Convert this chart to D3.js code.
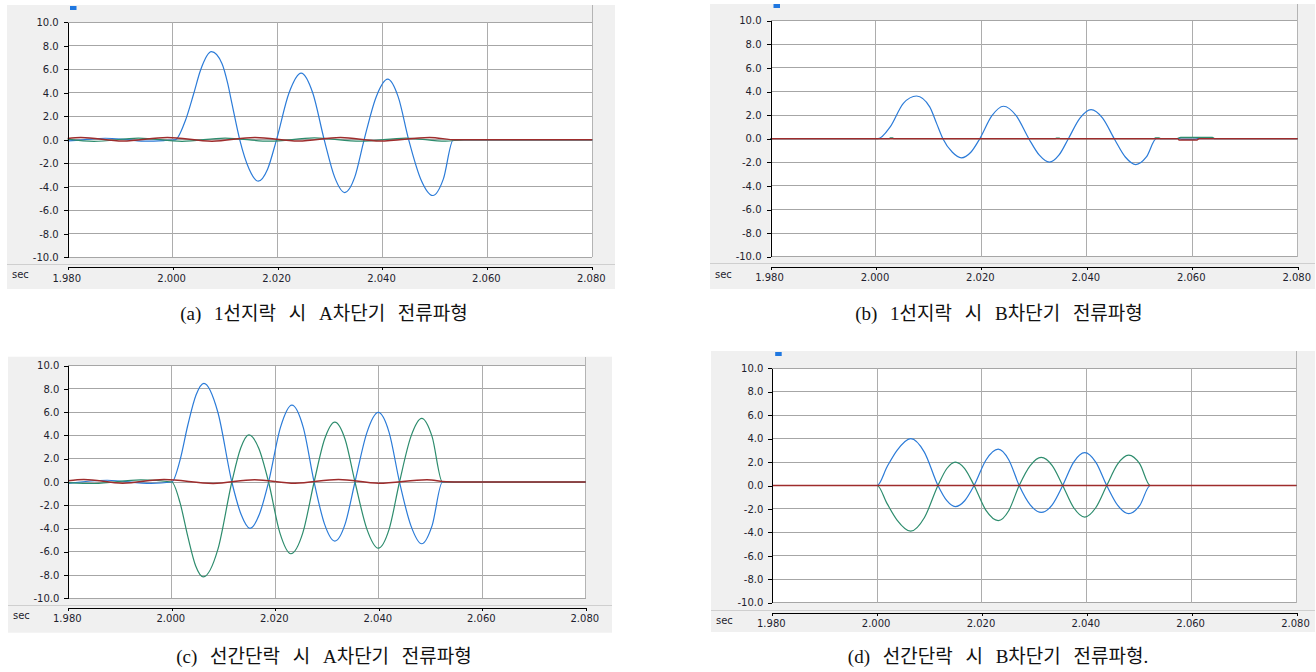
<!DOCTYPE html>
<html>
<head>
<meta charset="utf-8">
<script src="https://cdn.jsdelivr.net/npm/d3@7/dist/d3.min.js"></script>
<style>
  html, body { margin: 0; padding: 0; background: #ffffff; }
  svg { display: block; }
</style>
</head>
<body>
<script>
// ---------------- DATA ----------------
const xTicks = [1.98, 2.00, 2.02, 2.04, 2.06, 2.08];
const yTicks = [10, 8, 6, 4, 2, 0, -2, -4, -6, -8, -10];
const xUnit = "sec";
const captions = [
  "(a) 1선지락 시 A차단기 전류파형",
  "(b) 1선지락 시 B차단기 전류파형",
  "(c) 선간단락 시 A차단기 전류파형",
  "(d) 선간단락 시 B차단기 전류파형."
];

// (a) single line-to-ground fault, breaker A  [time (s), current]
const aBlue = [[1.980,-0.10],[1.9830,0.00],[1.9872,0.13],[1.9912,0.02],[1.9950,-0.12],[1.9985,-0.06],[2.0005,0],
  [2.0024,1.6],[2.0040,3.9],[2.0053,5.9],[2.0074,7.5],[2.0094,6.5],[2.0105,4.8],[2.0113,3.1],[2.0128,0],
  [2.0146,-2.5],[2.0163,-3.52],[2.0181,-2.5],[2.0198,0],
  [2.0222,4.0],[2.0245,5.67],[2.0267,4.0],[2.0289,0],
  [2.0309,-3.2],[2.0328,-4.49],[2.0347,-3.2],[2.0365,0],
  [2.0388,3.65],[2.0410,5.16],[2.0430,3.65],[2.0450,0],
  [2.0473,-3.35],[2.0496,-4.74],[2.0516,-3.35],[2.0535,0],[2.0800,0]];
const aGreen = [[1.980,0.05],[1.9850,-0.14],[1.9935,0.15],[2.0018,-0.13],[2.0100,0.15],[2.0185,-0.12],
  [2.0270,0.16],[2.0358,-0.12],[2.0445,0.15],[2.0520,-0.12],[2.0555,0],[2.0800,0]];
const aRed = [[1.980,0.12],[1.9825,0.2],[1.9905,-0.1],[1.9990,0.2],[2.0075,-0.12],[2.0157,0.2],[2.0240,-0.1],
  [2.0320,0.2],[2.0395,-0.1],[2.0490,0.2],[2.0540,0],[2.0800,0]];

// (b) single line-to-ground fault, breaker B
const bBlue = [[1.980,0],[2.0004,0],[2.0027,1.0],[2.0052,3.0],[2.0077,3.62],[2.0102,2.7],[2.0115,1.3],[2.0127,0],
  [2.0145,-1.15],[2.0162,-1.62],[2.0180,-1.15],[2.0197,0],
  [2.0220,1.95],[2.0242,2.75],[2.0266,1.95],[2.0290,0],
  [2.0310,-1.4],[2.0329,-1.99],[2.0347,-1.4],[2.0365,0],
  [2.0387,1.75],[2.0408,2.47],[2.0430,1.75],[2.0452,0],
  [2.0473,-1.55],[2.0493,-2.19],[2.0513,-1.55],[2.0532,0],
  [2.0575,0],[2.0580,-0.06],[2.0605,-0.06],[2.0610,0],[2.0800,0]];
const bGreen = [[1.980,0],[2.0025,0],[2.0027,0.07],[2.0032,0.07],[2.0034,0],[2.0340,0],[2.0342,0.06],[2.0348,0.06],
  [2.0350,0],[2.0528,0],[2.0530,0.08],[2.0537,0.08],[2.0540,0],[2.0570,0],[2.0578,0.12],[2.0638,0.12],[2.0643,0],[2.0800,0]];
const bRed = [[1.980,0],[2.0572,0],[2.0576,-0.12],[2.0608,-0.12],[2.0613,0],[2.0800,0]];

// (c) line-to-line fault, breaker A
const cBlue = [[1.980,-0.12],[1.9875,0.15],[1.9960,-0.12],[2.0000,0],
  [2.0016,1.9],[2.0031,4.9],[2.0047,7.5],[2.0062,8.48],[2.0089,6.0],[2.0116,0],
  [2.0134,-2.8],[2.0151,-3.99],[2.0169,-2.8],[2.0187,0],
  [2.0210,4.7],[2.0232,6.61],[2.0254,4.7],[2.0275,0],
  [2.0295,-3.6],[2.0315,-5.08],[2.0335,-3.6],[2.0354,0],
  [2.0377,4.25],[2.0399,5.98],[2.0420,4.25],[2.0440,0],
  [2.0462,-3.75],[2.0483,-5.31],[2.0503,-3.75],[2.0523,0],[2.0800,0]];
const cGreen = [[1.980,-0.05],[1.9850,-0.13],[1.9940,0.18],[2.0000,0],
  [2.0016,-1.8],[2.0031,-4.7],[2.0046,-7.2],[2.0061,-8.16],[2.0089,-5.8],[2.0116,0],
  [2.0133,2.9],[2.0149,4.05],[2.0168,2.9],[2.0187,0],
  [2.0209,-4.4],[2.0230,-6.17],[2.0253,-4.4],[2.0275,0],
  [2.0295,3.65],[2.0315,5.15],[2.0335,3.65],[2.0354,0],
  [2.0377,-4.05],[2.0399,-5.69],[2.0420,-4.05],[2.0440,0],
  [2.0462,3.9],[2.0483,5.47],[2.0503,3.9],[2.0523,0],[2.0800,0]];
const cRed = [[1.980,0.1],[1.9830,0.22],[1.9905,-0.1],[1.9985,0.22],[2.0080,-0.12],[2.0160,0.2],[2.0238,-0.1],
  [2.0322,0.22],[2.0400,-0.1],[2.0493,0.2],[2.0530,0.02],[2.0560,0],[2.0800,0]];

// (d) line-to-line fault, breaker B
const dBlue = [[1.980,0],[2.0000,0],
  [2.0019,1.6],[2.0038,3.0],[2.0064,4.0],[2.0090,2.85],[2.0116,0],
  [2.0133,-1.3],[2.0149,-1.8],[2.0167,-1.3],[2.0185,0],
  [2.0208,2.2],[2.0231,3.1],[2.0251,2.2],[2.0271,0],
  [2.0292,-1.65],[2.0313,-2.3],[2.0334,-1.65],[2.0354,0],
  [2.0375,2.0],[2.0396,2.8],[2.0417,2.0],[2.0438,0],
  [2.0459,-1.7],[2.0480,-2.4],[2.0501,-1.7],[2.0521,0],[2.0800,0]];
const dGreen = [[1.980,0],[2.0000,0],
  [2.0019,-1.55],[2.0038,-2.95],[2.0064,-3.9],[2.0090,-2.75],[2.0116,0],
  [2.0133,1.45],[2.0149,2.0],[2.0167,1.45],[2.0185,0],
  [2.0208,-2.15],[2.0231,-3.0],[2.0251,-2.15],[2.0271,0],
  [2.0292,1.7],[2.0313,2.4],[2.0334,1.7],[2.0354,0],
  [2.0375,-1.9],[2.0396,-2.7],[2.0417,-1.9],[2.0438,0],
  [2.0459,1.85],[2.0480,2.6],[2.0501,1.85],[2.0521,0],[2.0800,0]];
const dRed = [[1.980,0],[2.0800,0]];

// ---------------- LAYOUT / STYLE ----------------
const seriesColors = { blue: "#2b7bd8", green: "#2d8c6d", red: "#9e2c2c" };
const panels = [
  { bx:7,   by:5,     bw:608, bh:284, l:67.7,  r:592.3,  t:22.3,  b:257.3, sep:264.3, ax:267.3, marker:[70,6],      cap:[324,320], data:[aBlue,aGreen,aRed] },
  { bx:710, by:4,     bw:605, bh:285, l:770.5, r:1297.7, t:20.7,  b:256.7, sep:263.7, ax:266.7, marker:[773.5,4],   cap:[999,320], data:[bBlue,bGreen,bRed] },
  { bx:8,   by:356.7, bw:604, bh:276, l:68.3,  r:585.8,  t:365.7, b:598.3, sep:605,   ax:607.7, marker:null,        cap:[324,663], data:[cBlue,cGreen,cRed] },
  { bx:711, by:351,   bw:604, bh:281, l:772.3, r:1296.5, t:368.3, b:602.7, sep:610,   ax:612.7, marker:[775.2,352], cap:[998,663], data:[dBlue,dGreen,dRed] }
];

const svg = d3.select("body").append("svg").attr("width", 1316).attr("height", 672);

panels.forEach((p, i) => {
  const g = svg.append("g");
  const x = d3.scaleLinear().domain([xTicks[0], xTicks[xTicks.length - 1]]).range([p.l, p.r]);
  const y = d3.scaleLinear().domain([yTicks[yTicks.length - 1], yTicks[0]]).range([p.b, p.t]);

  g.append("rect").attr("x", p.bx).attr("y", p.by).attr("width", p.bw).attr("height", p.bh).attr("fill", "#f0f0f0");
  g.append("rect").attr("x", p.l).attr("y", p.t).attr("width", p.r - p.l).attr("height", p.b - p.t).attr("fill", "#ffffff");

  // separator above x axis
  g.append("line").attr("x1", p.bx).attr("x2", p.bx + p.bw).attr("y1", p.sep).attr("y2", p.sep)
    .attr("stroke", "#cfcfcf").attr("stroke-width", 1).attr("shape-rendering", "crispEdges");

  // gridlines
  g.append("g").selectAll("line").data(yTicks).join("line")
    .attr("x1", p.l).attr("x2", p.r).attr("y1", d => y(d)).attr("y2", d => y(d))
    .attr("stroke", "#a6a6a6").attr("stroke-width", 1).attr("shape-rendering", "crispEdges");
  g.append("g").selectAll("line").data(xTicks.slice(1)).join("line")
    .attr("x1", d => x(d)).attr("x2", d => x(d)).attr("y1", p.t).attr("y2", p.b)
    .attr("stroke", "#adadad").attr("stroke-width", 1).attr("shape-rendering", "crispEdges");
  // right border extending through the header
  g.append("line").attr("x1", p.r).attr("x2", p.r).attr("y1", p.by).attr("y2", p.b)
    .attr("stroke", "#b4b4b4").attr("stroke-width", 1).attr("shape-rendering", "crispEdges");

  // waveforms
  const line = d3.line().x(d => x(d[0])).y(d => y(d[1])).curve(d3.curveMonotoneX);
  const cols = [seriesColors.blue, seriesColors.green, seriesColors.red];
  p.data.forEach((s, k) => {
    g.append("path").datum(s).attr("d", line).attr("fill", "none")
      .attr("stroke", cols[k]).attr("stroke-width", k === 2 ? 1.5 : 1.2)
      .attr("stroke-linejoin", "round");
  });

  // y axis
  const yAx = g.append("g").attr("transform", `translate(${p.l},0)`)
    .call(d3.axisLeft(y).tickValues(yTicks).tickSize(4).tickSizeOuter(0).tickPadding(5)
      .tickFormat(d => d.toFixed(1)));
  // x axis
  const xAx = g.append("g").attr("transform", `translate(0,${p.ax})`)
    .call(d3.axisBottom(x).tickValues(xTicks).tickSize(3).tickSizeOuter(0).tickPadding(4.6)
      .tickFormat(d => d.toFixed(3)));
  [yAx, xAx].forEach(a => {
    a.attr("font-family", "'DejaVu Sans', sans-serif").attr("font-size", 10);
    a.selectAll("text").attr("fill", "#1e1e2e");
    a.select(".domain").attr("stroke", "#000").attr("shape-rendering", "crispEdges");
    a.selectAll(".tick line").attr("stroke", "#000").attr("shape-rendering", "crispEdges");
  });
  xAx.selectAll("text").attr("dx", "-1.5");

  g.append("text").attr("x", p.bx + 5).attr("y", p.ax + 11)
    .attr("font-family", "'DejaVu Sans', sans-serif").attr("font-size", 10).attr("fill", "#1e1e2e")
    .text(xUnit);

  if (p.marker) {
    g.append("rect").attr("x", p.marker[0]).attr("y", p.marker[1]).attr("width", 6.5).attr("height", 4)
      .attr("fill", "#1f77e0");
  }

  svg.append("text").attr("x", p.cap[0]).attr("y", p.cap[1]).attr("text-anchor", "middle")
    .attr("font-family", "'Liberation Serif', 'Noto Sans CJK KR', serif").attr("font-size", 19)
    .attr("word-spacing", 8).attr("fill", "#111").text(captions[i]);
});
</script>
</body>
</html>
